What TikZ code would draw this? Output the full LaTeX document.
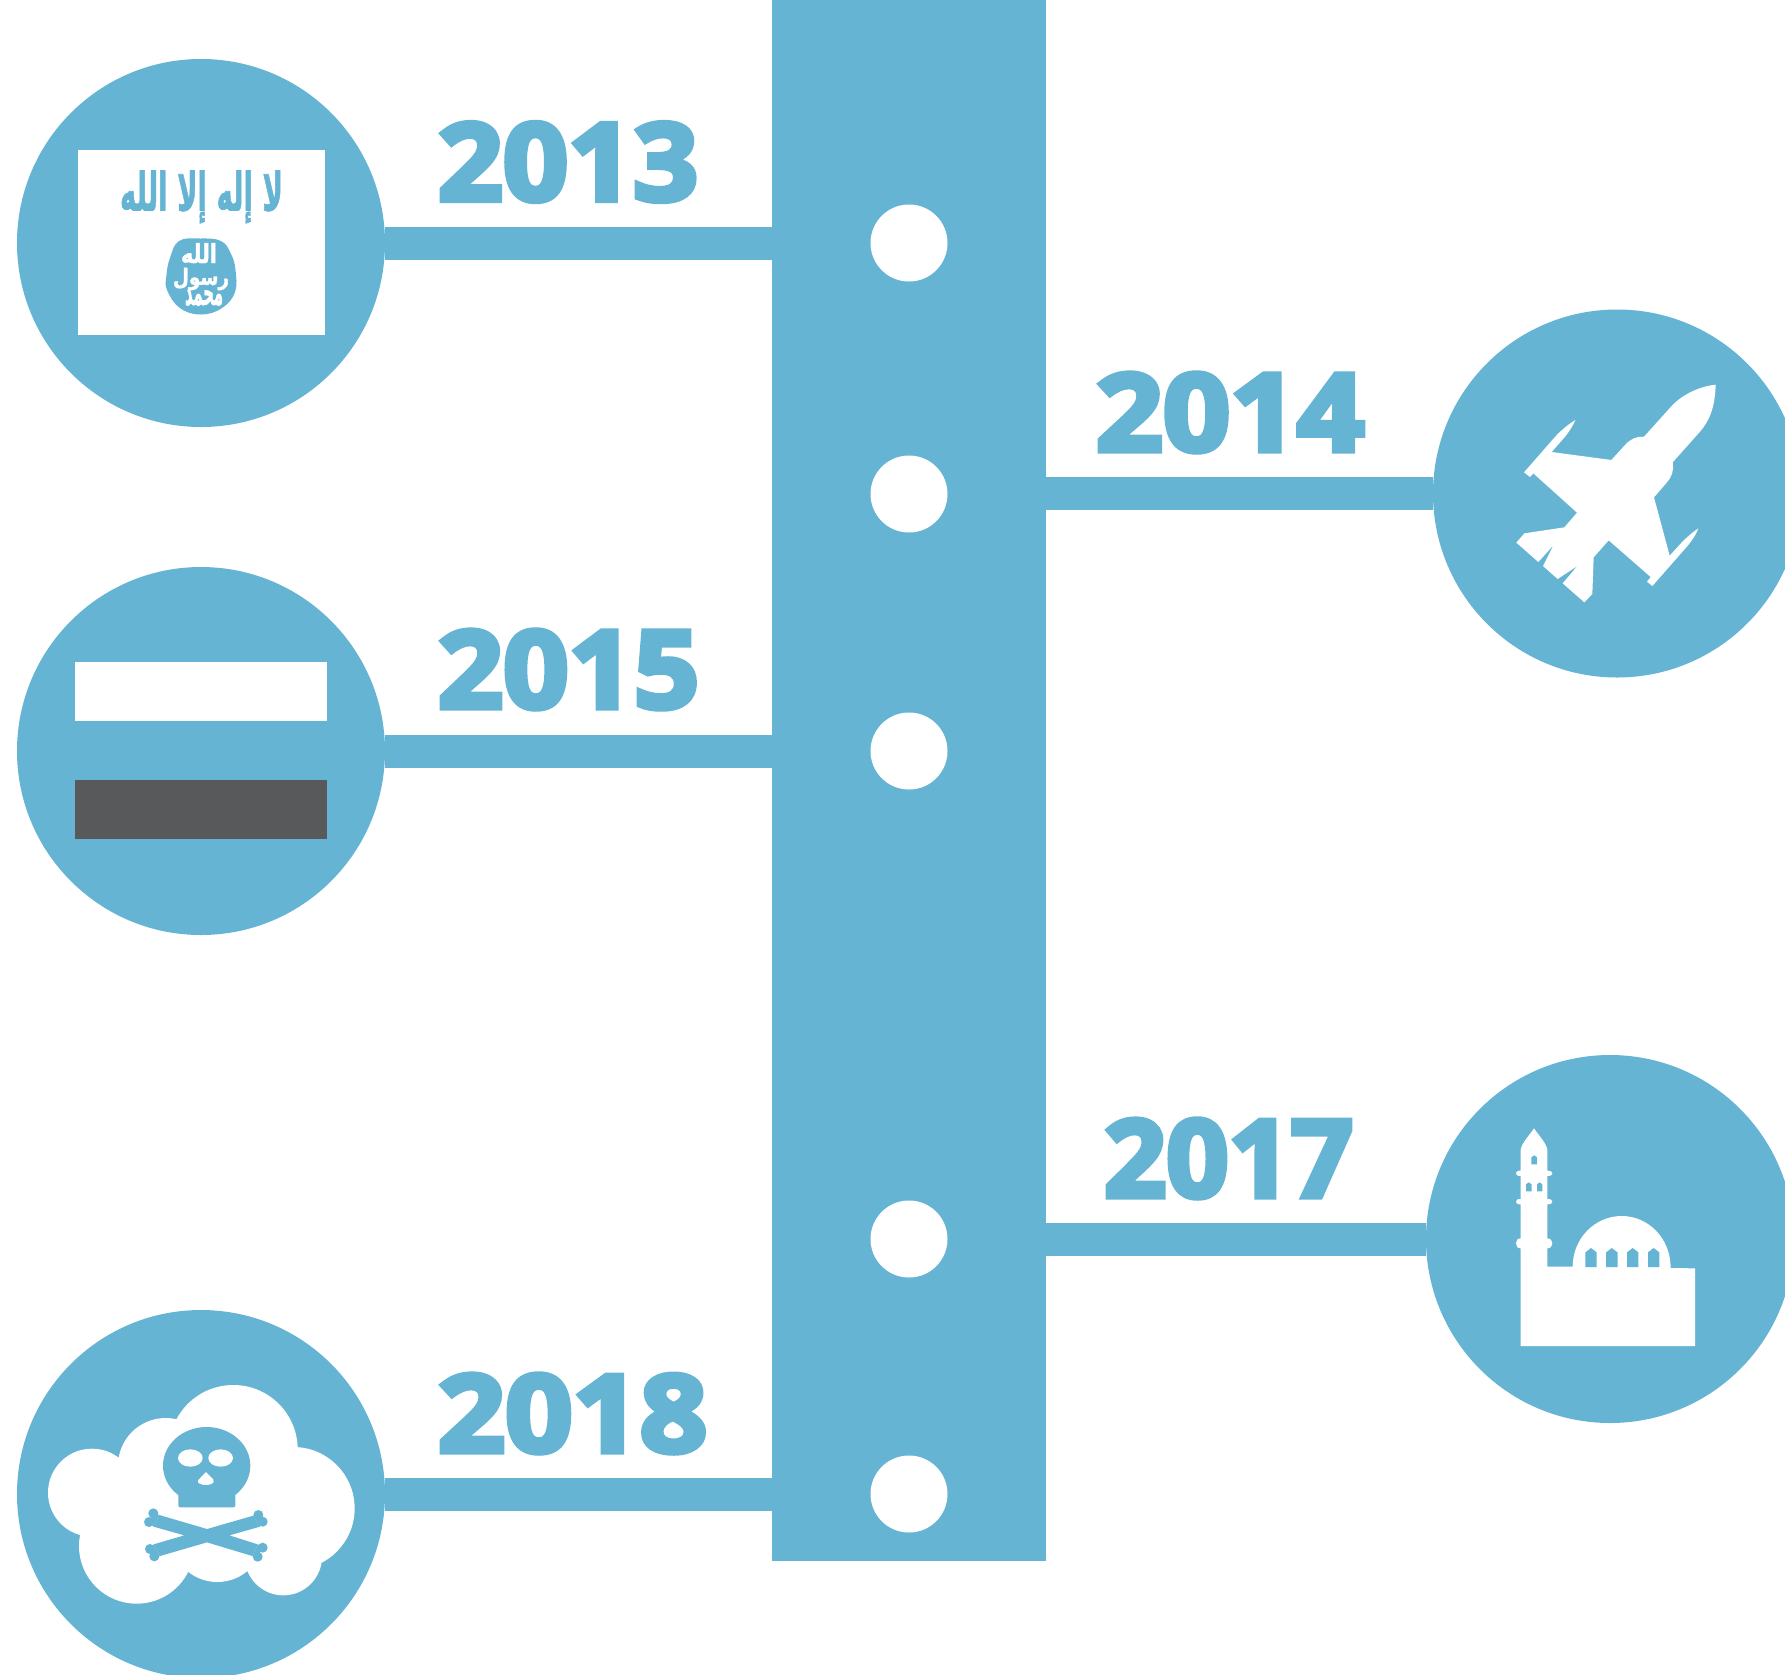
\documentclass[tikz,border=0pt]{standalone}
\usepackage{fontspec}
\usepackage{graphicx}
\TeXXeTstate=1
\newfontfamily\yearfont[BoldFeatures={FakeBold=5}]{Open Sans}
\newfontfamily\arabicfont[Script=Arabic,FakeBold=1.5]{DejaVu Sans Bold}
\definecolor{tl}{RGB}{102,180,211}
\definecolor{slate}{RGB}{88,89,91}
\tikzset{
  disc/.style={circle,fill=tl,minimum size=368pt,inner sep=0pt},
  hole/.style={circle,fill=white,minimum size=77pt,inner sep=0pt},
  spinebar/.style={rectangle,fill=tl,minimum width=274pt,minimum height=1561pt,inner sep=0pt},
  link/.style={tl,line width=33pt},
  year/.style={inner sep=0pt,text=tl},
  band/.style={rectangle,minimum width=252pt,minimum height=59pt,inner sep=0pt}
}
\newcommand{\yr}[3]{\resizebox{#1pt}{#2pt}{\yearfont\bfseries #3}}
\newcommand{\ar}[3]{\resizebox{#1pt}{#2pt}{\arabicfont #3}}
\begin{document}
\begin{tikzpicture}[x=1pt,y=-1pt]
\useasboundingbox (0,0) rectangle (1785,1674);
\clip (0,0) rectangle (1785,1674);
\node[spinebar] (spine) at (909,780.5) {};
\node[disc] (c13) at (201,243) {};
\node[disc] (c14) at (1617,493.5) {};
\node[disc] (c15) at (201,751) {};
\node[disc] (c17) at (1610,1239) {};
\node[disc] (c18) at (201,1494) {};
\draw[link] (c13.east) -- (spine.west |- c13.east);
\draw[link] (c15.east) -- (spine.west |- c15.east);
\draw[link] (c18.east) -- (spine.west |- c18.east);
\draw[link] (spine.east |- c14.west) -- (c14.west);
\draw[link] (spine.east |- c17.west) -- (c17.west);
\node[hole] (h13) at (909,243) {};
\node[hole] (h14) at (909,494) {};
\node[hole] (h15) at (909,751) {};
\node[hole] (h17) at (909,1239) {};
\node[hole] (h18) at (909,1494) {};
% years
\node[year] (y13) at (568,162) {\yr{260}{78}{2013}};
\node[year] (y14) at (1230,412.5) {\yr{268}{78}{2014}};
\node[year] (y15) at (568.5,669.5) {\yr{261}{78}{2015}};
\node[year] (y17) at (1228.5,1158.5) {\yr{249}{78}{2017}};
\node[year] (y18) at (572.5,1413.5) {\yr{269}{78}{2018}};
% flag 2013
\node[rectangle,fill=white,minimum width=246.5pt,minimum height=185pt,inner sep=0pt] (flag) at (201.25,242.5) {};
\node[inner sep=0pt,text=tl] (shahada) at (201.5,197) {\ar{163}{40}{\beginR لا إله إلا الله\endR}};
\fill[tl] plot[smooth cycle,tension=0.7] coordinates {(179,241) (200,238.5) (221,241) (231,254) (235.5,270) (235,292) (222,308) (201,314.5) (180,308) (167,290) (166.5,275) (170,258)};
\node[inner sep=0pt,text=white] (seal1) at (199,253) {\ar{36}{20}{\beginR الله\endR}};
\node[inner sep=0pt,text=white] (seal2) at (201,279) {\ar{56}{17}{\beginR رسول\endR}};
\node[inner sep=0pt,text=white] (seal3) at (204,298) {\ar{38}{15}{\beginR محمد\endR}};
% flag 2015
\node[band,fill=white] (bandw) at (201,691) {};
\node[band,fill=slate] (bandd) at (201,809.5) {};
% plane
\begin{scope}[shift={(1420,300)},scale=1/3]
\fill[white] (887,254) .. controls (885,320) and (870,360) .. (840,395) -- (758,487)
  .. controls (762,515) and (755,530) .. (740,548) -- (702,592) -- (749,767) -- (790,722)
  .. controls (805,708) and (820,695) .. (835,685) .. controls (828,705) and (815,722) .. (805,735)
  -- (697,858) -- (681,845) -- (692,831) -- (566,721) -- (521,772) -- (517,882) -- (493,907)
  -- (428,850) -- (472,798) -- (413,837) -- (369,798) -- (400,736) -- (355,786) -- (289,728)
  -- (313,700) -- (433,682) -- (471,638) -- (340,520) -- (330,531) -- (312,517) -- (410,405)
  .. controls (425,390) and (445,373) .. (466,360) .. controls (455,385) and (440,405) .. (430,416)
  -- (395,456) -- (574,480) -- (615,435) .. controls (632,416) and (650,409) .. (672,410)
  -- (755,318) .. controls (790,280) and (845,258) .. (887,254) -- cycle;
\end{scope}
% mosque
\begin{scope}[shift={(1420,1050)},scale=1/3]
\fill[white] (302,888) -- (825,888) -- (825,655) -- (752,654)
  .. controls (752,565) and (685,498) .. (605,498) .. controls (525,498) and (458,565) .. (458,650)
  -- (382,650) -- (382,595) .. controls (392,595) and (397,588) .. (397,580) .. controls (397,572) and (392,565) .. (382,565)
  -- (382,463) .. controls (392,463) and (397,460) .. (397,455) .. controls (397,450) and (392,447) .. (382,447)
  -- (382,378) .. controls (392,378) and (397,375) .. (397,370) .. controls (397,365) and (392,362) .. (382,362)
  -- (382,300) .. controls (380,280) and (355,255) .. (342,235) .. controls (329,255) and (304,280) .. (302,300)
  -- (302,362) .. controls (292,362) and (288,365) .. (288,370) .. controls (288,375) and (292,378) .. (302,378)
  -- (302,447) .. controls (292,447) and (288,450) .. (288,455) .. controls (288,460) and (292,463) .. (302,463)
  -- (302,565) .. controls (292,565) and (288,572) .. (288,580) .. controls (288,588) and (292,595) .. (302,595)
  -- cycle;
\foreach \x in {496,558.5,621,684}
  \fill[tl] (\x,651) -- (\x,607) -- (\x+17,594) -- (\x+34,607) -- (\x+34,651) -- cycle;
\fill[tl] (334,343) -- (334,322) -- (342.5,316) -- (351,322) -- (351,343) -- cycle;
\fill[tl] (318,424) -- (318,403) -- (326.5,397) -- (335,403) -- (335,424) -- cycle;
\fill[tl] (351,424) -- (351,403) -- (359,397) -- (367,403) -- (367,424) -- cycle;
\end{scope}
% cloud and skull
\begin{scope}[shift={(0,1300)},scale=1/3]
\fill[white] (700,448) circle[radius=193] (497,497) circle[radius=143] (276,578) circle[radius=132]
  (410,738) circle[radius=173] (652,706) circle[radius=140] (850,770) circle[radius=116] (880,625) circle[radius=184];
\fill[white] (300,500) rectangle (900,760);
\fill[tl] (620,497) ellipse[x radius=131,y radius=116];
\fill[tl,rounded corners=2pt] (535,560) -- (535,622) -- (706,622) -- (706,560) -- cycle;
\fill[white] (571,474) ellipse[x radius=37,y radius=26] (662,474) ellipse[x radius=37,y radius=26];
\fill[white] (618,516) -- (640,538) .. controls (646,550) and (630,555) .. (618,555) .. controls (606,555) and (588,550) .. (595,540) -- cycle;
\fill[tl] (478,645) -- (621,687) -- (760,647) -- (780,680) -- (688,706) -- (773,733) -- (757,768)
  -- (621,727) -- (480,768) -- (461,733) -- (553,706) -- (461,680) -- cycle;
\fill[tl] (478,645) -- (460,640) -- (447,666) -- (461,680) -- cycle;
\fill[tl] (760,647) -- (775,645) -- (788,665) -- (780,680) -- cycle;
\fill[tl] (461,733) -- (450,747) -- (463,769) -- (480,768) -- cycle;
\fill[tl] (773,733) -- (788,743) -- (773,770) -- (757,768) -- cycle;
\foreach \p in {(460,640),(447,666),(788,665),(775,645),(450,747),(463,769),(788,743),(773,770)}
  \fill[tl] \p circle[radius=15];
\end{scope}
\end{tikzpicture}
\end{document}
